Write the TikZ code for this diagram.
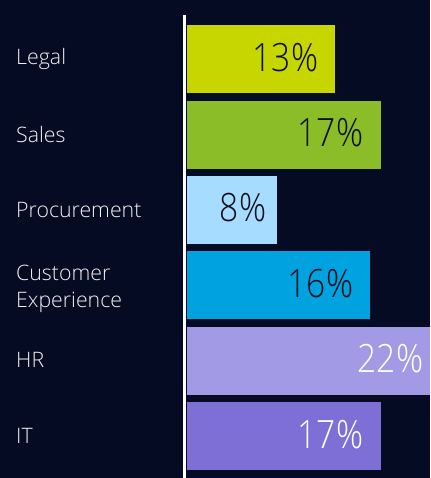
\documentclass[tikz,border=0pt]{standalone}
\usepackage{fontspec}
\setmainfont{Open Sans}[UprightFont=* Light]
\newfontfamily\pctfont{Open Sans}[UprightFont=* Light, FakeStretch=0.86]
\usetikzlibrary{positioning}
\definecolor{bgnavy}{RGB}{5, 11, 34}
\definecolor{clegal}{RGB}{200, 214, 0}
\definecolor{csales}{RGB}{138, 189, 39}
\definecolor{cproc}{RGB}{165, 220, 255}
\definecolor{ccust}{RGB}{0, 162, 223}
\definecolor{chr}{RGB}{163, 154, 230}
\definecolor{cit}{RGB}{126, 111, 215}
\definecolor{darktext}{RGB}{12, 14, 24}
\tikzset{bar/.style = {anchor = north west, inner sep = 0, minimum height = 68, draw = none},
  lbl/.style = {anchor = base west, inner sep = 0, text = white!90!gray, align = left,
    font = \fontsize{21.3}{27}\selectfont},
  pct/.style = {anchor = east, inner sep = 0, font = \pctfont\fontsize{39}{39}\selectfont}}

\begin{document}
\begin{tikzpicture}[x = 1pt, y = -1pt]
      \fill [bgnavy] (0, 0) rectangle (430, 478);
      \useasboundingbox (0, 0) rectangle (430, 478);
      % bars
      \node [bar, fill = clegal, minimum width = 148] (legal) at (187, 25) {};
      \node [bar, fill = csales, minimum width = 194] (sales) at (187, 100.4) {};
      \node [bar, fill = cproc, minimum width = 90] (proc) at (187, 175.8) {};
      \node [bar, fill = ccust, minimum width = 183] (cust) at (187, 251.2) {};
      \node [bar, fill = chr, minimum width = 243] (hr) at (187, 326.6) {};
      \node [bar, fill = cit, minimum width = 194] (it) at (187, 402) {};
      % axis
      \coordinate (axtop) at (184.5, 15);
      \coordinate (axbot) at (184.5, 478);
      \draw [white, line width = 3] (axtop) -- (axbot);
      % values
      \node [pct, text = darktext, left = 17 of legal.east, yshift = 2] (vlegal) {13\%};
      \node [pct, text = darktext, left = 18 of sales.east, yshift = 2] (vsales) {17\%};
      \node [pct, text = darktext, left = 11 of proc.east, yshift = 2] (vproc) {8\%};
      \node [pct, text = darktext, left = 17 of cust.east, yshift = 2] (vcust) {16\%};
      \node [pct, text = white, left = 7 of hr.east, yshift = 2] (vhr) {22\%};
      \node [pct, text = white, left = 18 of it.east, yshift = 2] (vit) {17\%};
      % names
      \node [lbl] (nlegal) at (16, 65) {Legal};
      \node [lbl] (nsales) at (16, 143) {Sales};
      \node [lbl] (nproc) at (16, 217) {Procurement};
      \node [lbl] (ncust) at (16, 307) {Customer\\Experience};
      \node [lbl] (nhr) at (16, 367) {HR};
      \node [lbl] (nit) at (16, 443) {IT};
    \end{tikzpicture}
\end{document}
